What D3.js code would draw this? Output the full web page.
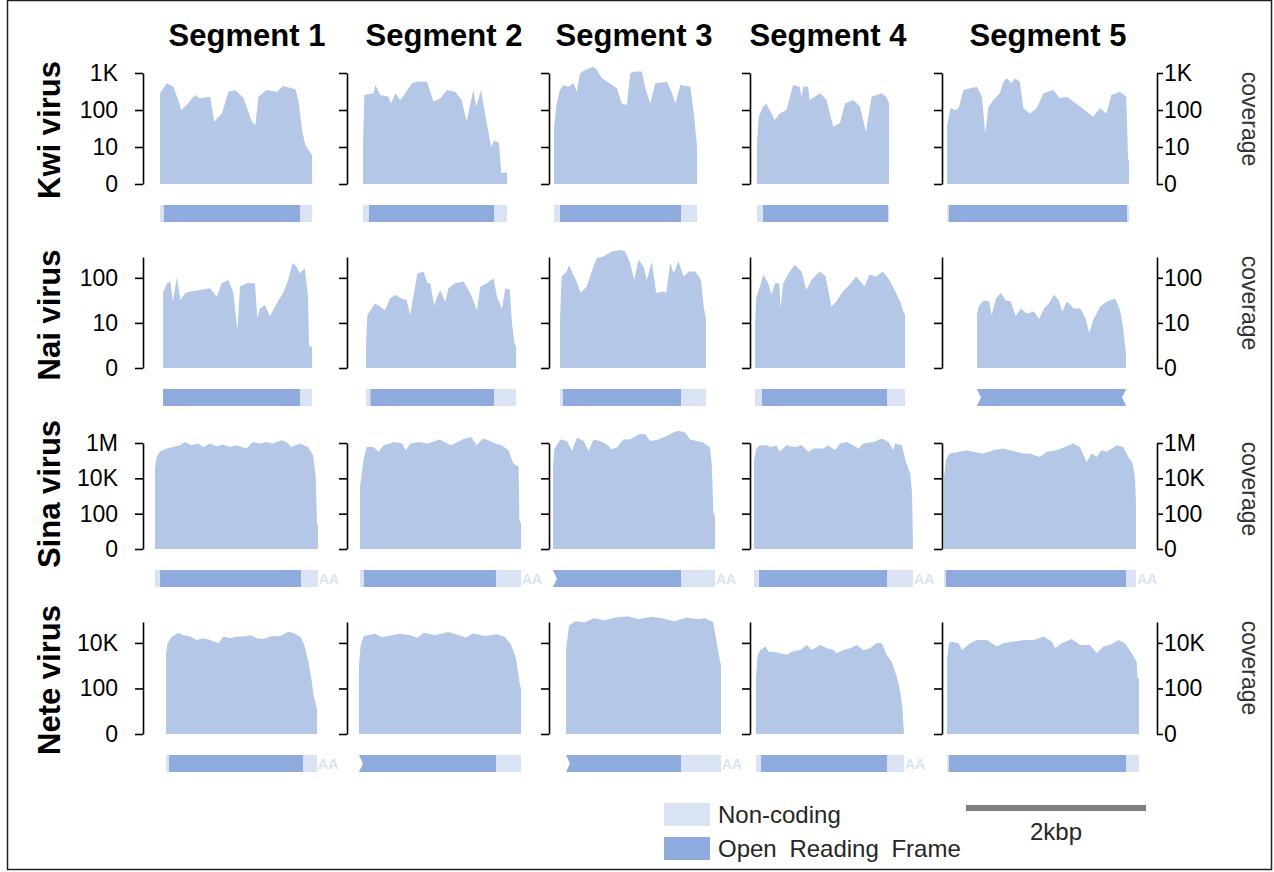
<!DOCTYPE html>
<html>
<head>
<meta charset="utf-8">
<script src="https://cdn.jsdelivr.net/npm/d3@7"></script>
<style>
  body { margin: 0; background: #fff; }
  svg { display: block; }
  text { font-family: "Liberation Sans", Arial, sans-serif; }
</style>
</head>
<body>
<div id="chart"></div>
<script>
// ---- data ----
const segments = ["Segment 1", "Segment 2", "Segment 3", "Segment 4", "Segment 5"];
const viruses = ["Kwi virus", "Nai virus", "Sina virus", "Nete virus"];

// segment lengths (bp) and ORF [start, end] (bp)
const kwiLen = [1690, 1600, 1590, 1467, 2022];
const kwiOrf = [[44, 1556], [67, 1456], [67, 1411], [67, 1456], [22, 2000]];
const naiLen = [1656, 1667, 1622, 1667, 1656];
const naiOrf = [[0, 1522], [50, 1422], [33, 1344], [78, 1467], [0, 1656]];
const sinaLen = [1811, 1789, 1800, 1767, 2133];
const sinaOrf = [[56, 1622], [44, 1511], [0, 1422], [56, 1478], [22, 2022]];
const neteLen = [1678, 1800, 1722, 1644, 2133];
const neteOrf = [[33, 1522], [0, 1522], [0, 1278], [56, 1456], [22, 1989]];

// incomplete ends [left, right] and poly-A tail per segment
const kwiJag = [[0, 0], [0, 0], [0, 0], [0, 0], [0, 0]];
const naiJag = [[0, 0], [0, 0], [0, 0], [0, 0], [1, 1]];
const sinaJag = [[0, 0], [0, 0], [1, 0], [0, 0], [0, 0]];
const neteJag = [[0, 0], [1, 0], [1, 0], [0, 0], [0, 0]];
const kwiPolyA = [0, 0, 0, 0, 0];
const naiPolyA = [0, 0, 0, 0, 0];
const sinaPolyA = [1, 1, 1, 1, 1];
const netePolyA = [1, 0, 1, 1, 0];

// y axis ticks per virus
const kwiTicks = [1, 10, 100, 1000], kwiTickLabels = ["0", "10", "100", "1K"], kwiMax = 1000;
const naiTicks = [1, 10, 100], naiTickLabels = ["0", "10", "100"], naiMax = 290;
const sinaTicks = [1, 100, 1e4, 1e6], sinaTickLabels = ["0", "100", "10K", "1M"], sinaMax = 1e6;
const neteTicks = [1, 100, 1e4], neteTickLabels = ["0", "100", "10K"], neteMax = 83000;

// coverage profiles: [position along segment (%), coverage]
const kwiCov = [
  [[0,282],[4.4,525],[8.8,427],[12,186],[14,100],[17.6,137],[23,254],[26,208],[33,229],[35.6,48],[40.7,81],[45,311],[49.5,347],[55,208],[60.4,48],[62.6,39],[64.8,229],[70,347],[77,311],[81,446],[89,363],[91,186],[93.4,29],[95.6,11],[99,7],[100,6]],
  [[0,12],[1,254],[7.4,282],[8.6,475],[12,254],[17.8,229],[19.4,151],[22.5,282],[25.9,186],[29.4,282],[34,525],[37.5,583],[44.4,583],[49,167],[53.7,208],[58.3,347],[64,311],[68.5,186],[72,48],[76.6,347],[78.7,123],[82,347],[85.6,54],[89,10],[91,15],[94.4,13],[96,2],[100,2]],
  [[0,35],[1.9,151],[4.2,347],[6.5,475],[10,427],[13.6,525],[15.9,311],[18.2,980],[21.7,1200],[27.6,1480],[30,1200],[33.4,720],[39,525],[43.9,385],[47.4,151],[50.9,137],[53.3,980],[56.8,1090],[61.4,1090],[63.8,385],[67.3,151],[70.8,525],[79,583],[82.5,282],[84.8,151],[88.3,475],[95.3,427],[97.7,81],[100,10]],
  [[0,13],[1.3,66],[4.6,123],[7,151],[9.6,100],[13.4,54],[17.2,81],[22.3,100],[27.3,475],[32.4,427],[33.7,229],[35,427],[38.7,427],[40,186],[47.8,282],[52.7,186],[57.7,35],[62.8,44],[66.6,151],[73,186],[78,123],[82.5,26],[86.8,229],[94.4,282],[98,229],[100,151]],
  [[0,35],[1.8,111],[4.6,100],[6.4,111],[9,347],[12.8,385],[16.4,427],[19.2,229],[21,23],[22.8,123],[25.5,186],[29,282],[31,583],[32.8,720],[35.6,525],[37.4,720],[40,583],[42,111],[45.6,81],[49.3,111],[53,282],[58.4,347],[62,208],[65.7,229],[71,151],[80.3,66],[84,111],[87.6,81],[90.3,254],[95,311],[98.5,229],[99.5,5],[100,4]]
];
const naiCov = [
  [[0,46],[2.7,76],[4.9,83],[6.7,30],[9.4,107],[11.6,32],[15,46],[18.3,50],[25,54],[31.6,59],[36,38],[39.4,76],[43.9,90],[47.2,46],[49.9,7],[51.7,64],[56.1,76],[61.7,76],[63.3,13],[65,21],[68.4,25],[71.7,14],[76.2,27],[80.6,46],[84,90],[86.9,213],[89.5,178],[91.8,127],[95.1,164],[97.3,38],[98,3],[100,3]],
  [[0,3],[0.9,15],[3.8,21],[6,27],[9.4,23],[12.7,19],[16,35],[19.4,42],[23.8,35],[27.2,32],[29.4,15],[31.6,38],[34.3,127],[38.3,138],[41,76],[42.8,76],[45.4,25],[49.4,54],[52.8,30],[55,59],[59.5,76],[65,83],[69.5,46],[74,19],[76.2,64],[80.6,76],[85,98],[87.3,38],[90.6,21],[92.9,59],[95.8,54],[97.3,10],[99,3.5],[100,3]],
  [[0,12],[1.1,107],[4.6,138],[6.2,195],[8,138],[11.4,83],[14.2,46],[18.3,64],[22.9,178],[25.2,275],[29.7,297],[35.5,383],[41.2,417],[44.6,383],[48,213],[50.8,90],[53.8,251],[57.2,178],[59.5,90],[62.9,230],[65.9,46],[70.9,50],[72.8,46],[75.5,213],[77.8,127],[81.2,230],[84.7,107],[88.1,138],[92.7,138],[96.6,90],[98.4,23],[100,12]],
  [[0,8],[0.7,35],[3.3,64],[5.5,117],[8.8,76],[11,42],[13.3,76],[16.2,76],[17,21],[18.8,76],[23.2,138],[26.5,195],[31,138],[34.3,54],[37.6,90],[43.1,138],[47.1,107],[50.9,23],[54.2,30],[58.6,50],[63,70],[67.5,107],[73,64],[76.3,117],[80.8,107],[85.2,138],[89.6,90],[94,46],[97.3,27],[98.5,19],[100,15]],
  [[0,16],[1.6,25],[4.9,32],[8.2,30],[9.8,15],[12.7,35],[16,46],[19.3,32],[22.7,30],[26,14],[29.3,21],[33.8,16],[38.2,18],[41.6,12],[44.9,21],[48.2,27],[51.6,42],[54.9,32],[57.1,18],[60.4,30],[64.9,21],[69.3,21],[72.7,13],[75.3,6],[78.2,12],[82.7,23],[87.1,30],[92.7,35],[96,19],[98.2,7],[100,2]]
];
const sinaCov = [
  [[0,36000],[1,163000],[3,315000],[7,490000],[11,600000],[15.3,755000],[18.4,1150000],[22.4,755000],[26.5,940000],[29.6,600000],[33.7,940000],[37.8,650000],[41.8,820000],[45.9,600000],[50,755000],[56,490000],[60,1150000],[64.3,940000],[68.4,1150000],[72.4,940000],[77.6,1440000],[80.6,1150000],[83.7,600000],[88.8,940000],[93.9,600000],[97,204000],[98.6,12000],[99.4,28],[100,20]],
  [[0,3300],[1,15000],[2.1,107000],[4.2,600000],[8.4,600000],[11.5,315000],[14.7,755000],[21,1150000],[26.2,940000],[28.3,390000],[31.4,940000],[36.7,1150000],[41.9,940000],[45,1150000],[49.3,1600000],[52.4,1150000],[56.6,755000],[60.8,1150000],[65,1800000],[69.2,2200000],[72.3,755000],[76.5,1800000],[79.7,1440000],[83.9,940000],[88,755000],[92.2,390000],[95.2,69000],[98.5,45000],[99,44],[100,28]],
  [[0,41000],[0.8,450000],[4.5,1600000],[8.6,1300000],[11.7,360000],[14.8,2000000],[18.9,1300000],[22,360000],[25,1600000],[29,1300000],[33,850000],[36.3,450000],[39.4,550000],[43.5,1600000],[47.6,1600000],[52.8,3100000],[56.9,3100000],[60,1300000],[65,1600000],[70.2,2500000],[74.3,3900000],[77.4,4900000],[81.5,3900000],[84.6,1600000],[88.7,1300000],[92.8,1070000],[96.9,550000],[98,63000],[99,118],[100,62]],
  [[0,107000],[1.5,490000],[3.6,755000],[7.8,755000],[11,600000],[14.1,755000],[16.2,315000],[20.4,755000],[25.7,600000],[29.9,755000],[34.1,315000],[37.3,490000],[43.6,490000],[46.7,755000],[50.9,390000],[54.1,940000],[58.3,1150000],[62.5,755000],[65.7,490000],[68.8,940000],[75.2,1150000],[80.4,1800000],[84.6,1150000],[87.4,390000],[88.8,940000],[93,755000],[95.2,107000],[98.3,19000],[99.4,1400],[100,1]],
  [[0,12000],[1.2,133000],[3,255000],[8.2,315000],[11.7,390000],[15.1,315000],[20.3,255000],[25.6,390000],[30.8,490000],[34.3,390000],[37.7,315000],[41.2,255000],[44.7,255000],[49.9,163000],[53.4,315000],[58.6,390000],[63,600000],[67.3,940000],[70.8,600000],[74.3,85000],[76.9,255000],[79.5,163000],[82.1,390000],[84.7,315000],[90,755000],[93.4,600000],[96,163000],[98.3,69000],[99.5,12000],[100,380]]
];
const neteCov = [
  [[0,3500],[1.1,9700],[3.8,19000],[8.2,27000],[11.5,22000],[15.9,19000],[20.4,13500],[24.8,16000],[29.2,13500],[34.7,9700],[38,19000],[42.5,16000],[46.9,19000],[51.3,19000],[55.8,22000],[60.2,16000],[64.6,15000],[69,19000],[75.7,20000],[81.2,31000],[84.5,27000],[88.9,19000],[91.6,8100],[94.5,1300],[96.7,170],[97.8,44],[98.9,26],[100,11]],
  [[0,1000],[1,8000],[3,20000],[10,25000],[14,18000],[18,20000],[25,25000],[32,22000],[36,17000],[40,28000],[47,22000],[55,30000],[62,22000],[66,17000],[70,26000],[78,20000],[85,24000],[90,18000],[94,8000],[97,2000],[99,200],[100,100]],
  [[0,5000],[2,60000],[6,90000],[12,80000],[18,120000],[25,100000],[32,130000],[40,150000],[47,110000],[55,140000],[62,120000],[70,90000],[78,130000],[85,110000],[90,120000],[95,80000],[98,5000],[100,1000]],
  [[0,330],[1.1,3000],[2.9,4900],[6.3,6900],[8.5,4100],[11.9,4100],[16.4,3500],[20.9,3000],[24.3,4100],[29.9,4900],[34.4,8100],[37.8,4900],[43.4,8100],[47.9,5800],[52.4,4900],[54.6,3500],[59.1,4900],[63.6,5800],[68.1,8100],[72.6,4900],[77.1,5800],[81.6,10000],[85,9700],[88.3,3000],[91.7,1500],[95.1,330],[97.3,86],[98.9,16],[100,1]],
  [[0,1800],[0.9,8100],[1.7,11500],[6.1,9700],[7.8,4900],[12.1,9700],[15.6,13500],[20.8,13500],[26,6900],[29.5,10000],[34.7,11500],[39.9,13500],[45.1,13500],[50.3,19000],[54.6,11500],[56.3,5800],[59.8,9700],[65,15000],[69.3,8100],[74.5,8100],[78,3500],[81.5,6900],[84.9,8100],[89.3,13500],[92.7,9700],[96.2,3500],[98.8,1500],[99.3,280],[100,280]]
];

const legendLabels = ["Non-coding", "Open Reading Frame"];
const scaleBarBp = 2000, scaleBarLabel = "2kbp";

// ---- layout ----
const width = 1274, height = 872;
const rowBase = [184, 368, 549, 734];
const rowTop = [73, 257, 443, 622];
const axisX = [143, 347, 549, 750, 942];
const rightX = 1157;
const panelX = [
  [160, 363, 554, 757, 947],
  [163, 366, 560, 755, 977],
  [155, 360, 553, 754, 944],
  [166, 359, 566, 756, 947]
];
const titleX = [247, 444, 634, 828, 1048];
const rowLabelY = [130, 315, 494, 680];
const barDy = 21, barH = 17;

const colArea = "#b4c7e7", colOrf = "#8faadc", colNc = "#dae3f3";

const rows = [
  {len: kwiLen, orf: kwiOrf, cov: kwiCov, jag: kwiJag, polyA: kwiPolyA, ticks: kwiTicks, labels: kwiTickLabels, max: kwiMax},
  {len: naiLen, orf: naiOrf, cov: naiCov, jag: naiJag, polyA: naiPolyA, ticks: naiTicks, labels: naiTickLabels, max: naiMax},
  {len: sinaLen, orf: sinaOrf, cov: sinaCov, jag: sinaJag, polyA: sinaPolyA, ticks: sinaTicks, labels: sinaTickLabels, max: sinaMax},
  {len: neteLen, orf: neteOrf, cov: neteCov, jag: neteJag, polyA: netePolyA, ticks: neteTicks, labels: neteTickLabels, max: neteMax}
];

// bp -> px, shared by every panel and the scale bar
const kb = d3.scaleLinear().domain([0, 2000]).range([0, 180]);

const svg = d3.select("#chart").append("svg")
  .attr("width", width).attr("height", height);

svg.append("rect").attr("width", width).attr("height", height).attr("fill", "#fff");
svg.append("rect")
  .attr("x", 7.5).attr("y", 0.5).attr("width", 1264).attr("height", 869)
  .attr("fill", "none").attr("stroke", "#222").attr("stroke-width", 1.5);

// column titles
svg.selectAll(".seg-title").data(segments).enter().append("text")
  .attr("x", (d, i) => titleX[i]).attr("y", 46)
  .attr("text-anchor", "middle")
  .attr("font-size", 31).attr("font-weight", "bold")
  .text(d => d);

// row labels
svg.selectAll(".row-label").data(viruses).enter().append("text")
  .attr("transform", (d, i) => "translate(60," + rowLabelY[i] + ") rotate(-90)")
  .attr("text-anchor", "middle")
  .attr("font-size", 31).attr("font-weight", "bold")
  .text(d => d);

function barShape(xa, xb, top, jl, jr) {
  const h = barH, b = top + h;
  let p = "M" + xa + "," + top + "L" + xb + "," + top;
  if (jr) p += "L" + (xb - 4) + "," + (top + h * 0.5);
  p += "L" + xb + "," + b + "L" + xa + "," + b;
  if (jl) p += "L" + (xa + 4) + "," + (top + h * 0.5);
  return p + "Z";
}

function styleAxis(g) {
  g.selectAll("path.domain").attr("stroke", "#000").attr("stroke-width", 1.6);
  g.selectAll(".tick line").attr("stroke", "#000").attr("stroke-width", 1.6);
  g.selectAll(".tick text").attr("fill", "#000").attr("font-size", 23)
    .attr("font-family", "'Liberation Sans', Arial, sans-serif");
}

rows.forEach((row, r) => {
  const base = rowBase[r];
  const y = d3.scaleLog().domain([1, row.max]).range([base, rowTop[r]]);
  const fmt = (d, i) => row.labels[i];

  segments.forEach((s, c) => {
    const x0 = panelX[r][c];
    const len = row.len[c];
    const x = d3.scaleLinear().domain([0, 100]).range([x0, x0 + kb(len)]);

    const area = d3.area()
      .x(d => x(d[0]))
      .y0(base)
      .y1(d => y(Math.max(1, d[1])));
    svg.append("path").datum(row.cov[c])
      .attr("d", area).attr("fill", colArea);

    // left axis of each panel
    const ax = svg.append("g").attr("transform", "translate(" + axisX[c] + ",0)")
      .call(d3.axisLeft(y).tickValues(row.ticks)
        .tickFormat(c === 0 ? fmt : () => "")
        .tickSize(8).tickSizeOuter(0).tickPadding(17));
    styleAxis(ax);

    // genome bar
    const top = base + barDy;
    const xs = x0, xe = x0 + kb(len);
    const [jl, jr] = row.jag[c];
    svg.append("path").attr("d", barShape(xs, xe, top, jl, jr)).attr("fill", colNc);
    const o0 = x0 + kb(row.orf[c][0]), o1 = x0 + kb(row.orf[c][1]);
    svg.append("path")
      .attr("d", barShape(o0, o1, top, jl && row.orf[c][0] === 0, jr && row.orf[c][1] >= len))
      .attr("fill", colOrf);
    if (row.polyA[c]) {
      svg.append("text").attr("x", xe + 1).attr("y", top + barH - 3)
        .attr("font-size", 14).attr("font-weight", "bold").attr("fill", colNc)
        .text("AA");
    }
  });

  // right axis
  const rx = svg.append("g").attr("transform", "translate(" + rightX + ",0)")
    .call(d3.axisRight(y).tickValues(row.ticks).tickFormat(fmt)
      .tickSize(6).tickSizeOuter(0).tickPadding(1));
  styleAxis(rx);

  svg.append("text")
    .attr("transform", "translate(1242," + (rowTop[r] + 46) + ") rotate(90)")
    .attr("text-anchor", "middle").attr("font-size", 23).attr("fill", "#333")
    .text("coverage");
});

// legend
const lg = svg.append("g").attr("transform", "translate(664,803)");
[colNc, colOrf].forEach((col, i) => {
  lg.append("rect").attr("x", 0).attr("y", i * 34).attr("width", 46).attr("height", 23).attr("fill", col);
  lg.append("text").attr("x", 54).attr("y", i * 34 + 20)
    .attr("font-size", 24).attr("word-spacing", 6).attr("fill", "#262626").text(legendLabels[i]);
});

// scale bar
const sbX = 966;
svg.append("line")
  .attr("x1", sbX).attr("x2", sbX + kb(scaleBarBp))
  .attr("y1", 808).attr("y2", 808)
  .attr("stroke", "#808080").attr("stroke-width", 6);
svg.append("text").attr("x", sbX + kb(scaleBarBp) / 2).attr("y", 840)
  .attr("text-anchor", "middle").attr("font-size", 24).attr("fill", "#262626")
  .text(scaleBarLabel);
</script>
</body>
</html>
